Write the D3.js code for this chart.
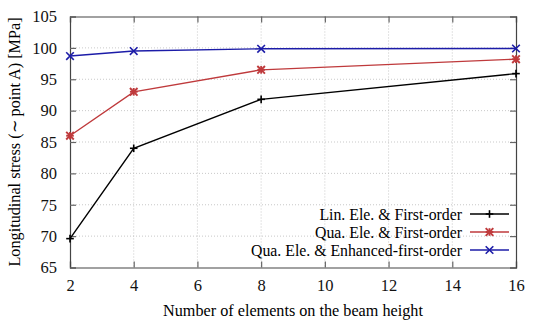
<!DOCTYPE html>
<html><head><meta charset="utf-8">
<script src="https://cdn.jsdelivr.net/npm/d3@7"></script>
<style>body{margin:0;background:#fff}svg text{font-family:"Liberation Serif","Times New Roman",serif !important}</style>
</head><body><svg id="c" width="540" height="324"></svg>
<script>
const xValues = [2, 4, 8, 16];
const linFirst = [69.6, 84.0, 91.8, 95.9];
const quaFirst = [86.0, 93.0, 96.5, 98.2];
const quaEnhanced = [98.7, 99.5, 99.85, 99.9];
const seriesNames = ["Lin. Ele. & First-order", "Qua. Ele. & First-order", "Qua. Ele. & Enhanced-first-order"];
const xTicks = [2, 4, 6, 8, 10, 12, 14, 16];
const yTicks = [65, 70, 75, 80, 85, 90, 95, 100, 105];

const svg = d3.select("#c");
const L = 70, R = 516, T = 16.5, B = 267.5;
const x = d3.scaleLinear().domain([2, 16]).range([L, R]);
const y = d3.scaleLinear().domain([65, 105]).range([B, T]);

// grid
const g = svg.append("g");
g.selectAll(".gx").data(xTicks.slice(1, -1)).enter().append("line")
  .attr("x1", d => x(d)).attr("x2", d => x(d)).attr("y1", T).attr("y2", B)
  .attr("stroke", "#bbb").attr("stroke-width", 0.8).attr("stroke-dasharray", "1,2");
g.selectAll(".gy").data(yTicks.slice(1, -1)).enter().append("line")
  .attr("y1", d => y(d)).attr("y2", d => y(d)).attr("x1", L).attr("x2", R)
  .attr("stroke", "#bbb").attr("stroke-width", 0.8).attr("stroke-dasharray", "1,2");

// axes
const ax = svg.append("g").attr("transform", `translate(0,${B})`)
  .call(d3.axisBottom(x).tickValues(xTicks).tickSize(-6).tickPadding(12).tickFormat(d3.format("d")));
const axT = svg.append("g").attr("transform", `translate(0,${T})`)
  .call(d3.axisTop(x).tickValues(xTicks).tickSize(-6).tickFormat(""));
const ay = svg.append("g").attr("transform", `translate(${L},0)`)
  .call(d3.axisLeft(y).tickValues(yTicks).tickSize(-6).tickPadding(13).tickFormat(d3.format("d")));
const ayR = svg.append("g").attr("transform", `translate(${R},0)`)
  .call(d3.axisRight(y).tickValues(yTicks).tickSize(-6).tickFormat(""));
[ax, axT, ay, ayR].forEach(a => {
  a.attr("font-family", null);
  a.select(".domain").attr("stroke", "#444").attr("stroke-width", 1.2);
  a.selectAll(".tick line").attr("stroke", "#666").attr("stroke-width", 1.2);
  a.selectAll("text").attr("font-size", 16.5).attr("fill", "#111");
});
ax.selectAll("text").attr("dy", "0.71em");

// titles
svg.append("text").attr("x", (L + R) / 2).attr("y", 316).attr("text-anchor", "middle")
  .attr("font-size", 16.2).text("Number of elements on the beam height");
svg.append("text").attr("transform", `translate(20,${(T + B) / 2}) rotate(-90)`)
  .attr("text-anchor", "middle").attr("font-size", 16.2).text("Longitudinal stress (∼ point A) [MPa]");

// series
const series = [
  {vals: linFirst, color: "#000000", marker: "plus"},
  {vals: quaFirst, color: "#bf3a3c", marker: "star"},
  {vals: quaEnhanced, color: "#1c1ca8", marker: "cross"}
];
function marker(sel, type, cx, cy, color) {
  const s = 3.8;
  const pl = [[cx - s, cy, cx + s, cy], [cx, cy - s, cx, cy + s]];
  const cr = [[cx - s, cy - s, cx + s, cy + s], [cx - s, cy + s, cx + s, cy - s]];
  let segs = type === "plus" ? pl : type === "cross" ? cr : pl.concat(cr);
  segs.forEach(p => sel.append("line").attr("x1", p[0]).attr("y1", p[1]).attr("x2", p[2]).attr("y2", p[3])
    .attr("stroke", color).attr("stroke-width", type === "star" ? 1.9 : 1.6));
}
const line = d3.line().x((d, i) => x(xValues[i])).y(d => y(d));
series.forEach(s => {
  svg.append("path").datum(s.vals).attr("d", line).attr("fill", "none")
    .attr("stroke", s.color).attr("stroke-width", 1.4);
  const mg = svg.append("g");
  s.vals.forEach((v, i) => marker(mg, s.marker, x(xValues[i]), y(v), s.color));
});

// legend
series.forEach((s, i) => {
  const ly = 214 + i * 18;
  svg.append("text").attr("x", 462).attr("y", ly).attr("dy", "0.35em").attr("text-anchor", "end")
    .attr("font-size", 15.8).text(seriesNames[i]);
  svg.append("line").attr("x1", 470).attr("x2", 509).attr("y1", ly).attr("y2", ly)
    .attr("stroke", s.color).attr("stroke-width", 1.4);
  marker(svg, s.marker, 489.5, ly, s.color);
});
</script></body></html>
